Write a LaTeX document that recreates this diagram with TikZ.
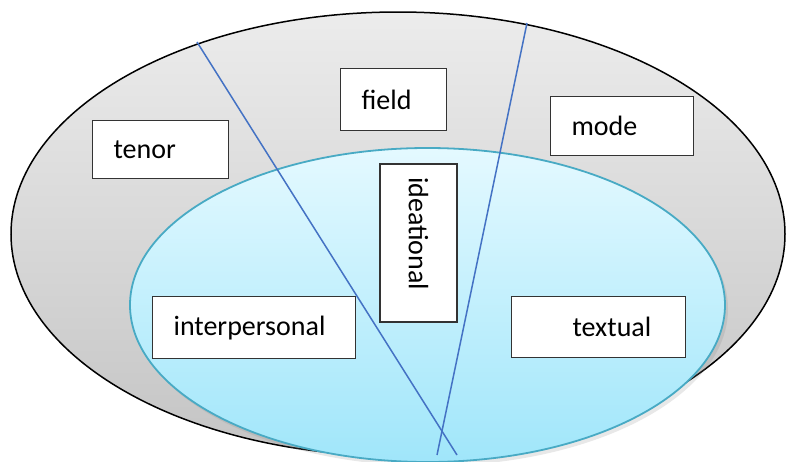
\documentclass[tikz,border=0pt]{standalone}
\usepackage{fontspec}
\setmainfont{Carlito}
\usetikzlibrary{shadows}
\begin{document}
\begin{tikzpicture}[x=1pt,y=-1pt,
  lbl/.style={draw=black!80, line width=1.2pt, fill=white, inner ysep=0pt,
    font=\fontsize{28}{30}\selectfont, align=left, anchor=north west},
  divider/.style={draw={rgb,255:red,68;green,114;blue,196}, line width=1.5pt}]
\useasboundingbox (0,0) rectangle (787,461);
\clip (0,0) rectangle (787,461);
\definecolor{outtop}{RGB}{236,236,236}
\definecolor{outbot}{RGB}{196,196,196}
\definecolor{intop}{RGB}{228,249,255}
\definecolor{inbot}{RGB}{160,230,250}
\definecolor{inedge}{RGB}{72,170,196}
% outer ellipse
\path[top color=outtop, bottom color=outbot, draw=black, line width=1.5pt]
  (398,234) ellipse [x radius=387, y radius=222];
% inner ellipse
\path[drop shadow={shadow xshift=3pt, shadow yshift=-4pt, opacity=0.18}, top color=intop, bottom color=inbot, draw=inedge, line width=1.8pt]
  (427.5,305) ellipse [x radius=297.5, y radius=157];
% divider lines
\coordinate (l1a) at (197,42);
\coordinate (l1b) at (457,455);
\coordinate (l2a) at (527,23);
\coordinate (l2b) at (437,455);
\draw[divider] (l1a) -- (l1b);
\draw[divider] (l2a) -- (l2b);
% boxes
\node[lbl, text width=94pt, inner xsep=21pt, minimum height=58pt] (tenor) at (92,120) {tenor};
\node[lbl, text width=64pt, inner xsep=21pt, minimum height=62pt] (field) at (340,68) {field};
\node[lbl, text width=101pt, inner xsep=21pt, minimum height=59pt] (mode) at (550,96) {mode};
\node[lbl, text width=161pt, inner xsep=21pt, minimum height=62pt] (inter) at (152,296) {interpersonal};
\node[lbl, text width=132pt, inner xsep=21pt, minimum height=61pt] (textual) at (511,296) {\hspace*{40pt}textual};
\node[lbl, anchor=center, rotate=-90, text width=132pt, inner xsep=13pt, minimum height=77pt] (ideational) at (418.5,243) {ideational};
\end{tikzpicture}
\end{document}
